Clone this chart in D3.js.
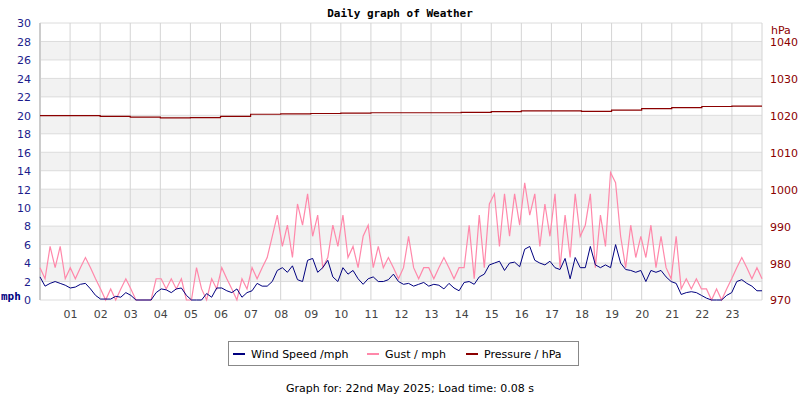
<!DOCTYPE html><html><head><meta charset="utf-8"><script src="https://cdn.jsdelivr.net/npm/d3@7"></script>
<style>body{margin:0;background:#fff}</style></head><body><svg id="c" width="800" height="400"></svg><script>
const hourLabels=["01","02","03","04","05","06","07","08","09","10","11","12","13","14","15","16","17","18","19","20","21","22","23"];
const windSpeed=[2.5,1.5,1.8,2.0,1.8,1.6, 1.3,1.4,1.7,1.8,1.2,0.5, 0.1,0.1,0.1,0.4,0.3,0.8, 0.5,0,0,0,0,0.8, 1.2,1.1,0.8,1.2,1.3,0.5, 0,0,0,0.7,0.3,1.3, 1.3,1.0,0.8,1.2,0.3,0.8, 1.0,1.8,1.5,1.5,2.0,3.2, 3.5,3.0,3.7,2.2,2.0,4.3, 4.5,3.0,3.5,4.3,2.5,2.0, 3.5,2.8,3.2,2.3,1.7,2.3, 2.5,2.0,2.0,2.2,2.8,2.0, 1.7,1.8,1.5,1.7,1.9,1.5, 1.7,1.6,1.2,1.8,1.3,1.0, 1.9,2.0,1.7,2.5,2.8,3.8, 4.0,4.2,3.2,4.0,4.1,3.6, 5.5,5.8,4.3,4.0,3.8,4.2, 3.5,3.3,4.5,2.3,4.6,3.5, 3.5,5.8,3.8,3.5,3.8,3.5, 6.0,4.0,3.3,3.2,3.0,3.2, 2.0,3.2,3.0,3.2,2.5,2.0, 1.8,0.6,0.8,0.9,0.8,0.5, 0.2,0,0,0,0.5,0.8, 2.0,2.2,1.8,1.5,1.0,1.0];
const gust=[3.5,2.3,5.8,3.5,5.8,2.3, 3.5,2.3,3.5,4.6,3.5,2.3, 1.2,0,1.2,0,1.2,2.3, 1.2,0,0,0,0,2.3, 2.3,1.2,2.3,1.2,2.3,0, 0,3.5,1.2,0,2.3,1.2, 3.5,2.3,1.2,0,2.3,1.2, 3.5,2.3,3.5,4.6,6.9,9.2, 5.8,8.1,4.6,10.4,8.1,11.5, 6.9,9.2,3.5,4.6,8.1,5.8, 9.2,4.6,5.8,3.5,6.9,8.1, 3.5,5.8,3.5,4.6,3.5,2.3, 3.5,6.9,3.5,2.3,3.5,3.5, 2.3,3.5,4.6,3.5,2.3,3.5, 3.5,8.1,2.3,9.2,3.5,10.4, 11.5,5.8,11.5,6.9,11.5,8.1, 12.7,9.2,11.5,5.8,10.4,6.9, 11.5,3.5,9.2,4.6,11.5,6.9, 8.1,11.5,3.5,9.2,5.8,13.8, 12.7,6.9,3.5,8.1,4.6,6.9, 4.6,8.1,3.5,6.9,3.5,2.3, 6.9,1.2,2.3,1.2,2.3,1.2, 1.2,0,1.2,0,1.2,2.3, 3.5,4.6,3.5,2.3,3.5,2.3];
const pressure=[1020.0,1020.0,1019.8,1019.6,1019.4,1019.5,1019.8,1020.4,1020.5,1020.6,1020.7,1020.8,1020.8,1020.8,1020.9,1021.1,1021.3,1021.3,1021.2,1021.5,1021.9,1022.2,1022.5,1022.6,1022.6];
const leftTicks=d3.range(0,31,2), rightTicks=d3.range(970,1041,10);
const svg=d3.select("#c");
const L=40,R=762,T=23,B=300;
const x=d3.scaleLinear().domain([0,24]).range([L,R]);
const y=d3.scaleLinear().domain([0,30]).range([B,T]);
const yp=d3.scaleLinear().domain([970,970+(B-T)/(258/70)]).range([B,T]);
for(let v=2;v<28;v+=4) svg.append("rect").attr("x",L).attr("width",R-L).attr("y",y(v+2)).attr("height",y(v)-y(v+2)).attr("fill","#f2f2f2");
leftTicks.forEach(v=>svg.append("line").attr("x1",L).attr("x2",R).attr("y1",y(v)).attr("y2",y(v)).attr("stroke","#dcdcdc"));
d3.range(0,25).forEach(h=>svg.append("line").attr("x1",x(h)).attr("x2",x(h)).attr("y1",T).attr("y2",B).attr("stroke","#d4d4d4"));
const ax=svg.append("g").attr("transform",`translate(0,${B})`).call(d3.axisBottom(x).tickValues(d3.range(1,24)).tickFormat(d=>hourLabels[d-1]).tickSize(0).tickPadding(10));
ax.select(".domain").remove();ax.selectAll("text").attr("fill","#444").style("font","11px 'DejaVu Sans'");
const ay=svg.append("g").attr("transform",`translate(${L-6},0)`).call(d3.axisLeft(y).tickValues(leftTicks).tickSize(0));
ay.select(".domain").remove();ay.selectAll("text").attr("fill","#1c1c8c").attr("dy","0.35em").style("font","11px 'DejaVu Sans'");
const ar=svg.append("g").attr("transform",`translate(${R+5},0)`).call(d3.axisRight(yp).tickValues(rightTicks).tickFormat(d3.format("d")).tickSize(0));
ar.select(".domain").remove();ar.selectAll("text").attr("fill","#8b0000").attr("dy","0.35em").style("font","11px 'DejaVu Sans'");
svg.append("line").attr("x1",L).attr("x2",L).attr("y1",T).attr("y2",B).attr("stroke","#ccc").attr("stroke-width",2);
const n=windSpeed.length;
const xi=i=>x(i*24/(n-1));
svg.append("path").attr("d",d3.line().x((d,i)=>xi(i)).y(d=>y(d))(gust)).attr("fill","none").attr("stroke","#ff88aa").attr("stroke-width",1.2);
svg.append("path").attr("d",d3.line().x((d,i)=>xi(i)).y(d=>y(d))(windSpeed)).attr("fill","none").attr("stroke","#00007f").attr("stroke-width",1);
svg.append("path").attr("d",d3.line().x((d,i)=>x(i)).y(d=>yp(d)).curve(d3.curveStepAfter)(pressure)).attr("fill","none").attr("stroke","#8b0000").attr("stroke-width",1.2);
svg.append("text").attr("x",400).attr("y",17).attr("text-anchor","middle").style("font","bold 11px 'DejaVu Sans Mono'").text("Daily graph of Weather");
svg.append("text").attr("x",1).attr("y",300).style("font","bold 11px 'DejaVu Sans Mono'").attr("fill","#00007f").text("mph");
svg.append("text").attr("x",771).attr("y",34).style("font","11px 'DejaVu Sans'").attr("fill","#8b0000").text("hPa");
svg.append("rect").attr("x",228.5).attr("y",341.5).attr("width",350).attr("height",24).attr("fill","#fff").attr("stroke","#888");
[["Wind Speed /mph","#00007f",233],["Gust / mph","#ff88aa",367],["Pressure / hPa","#8b0000",466]].forEach(([t,c,lx])=>{
svg.append("line").attr("x1",lx).attr("x2",lx+12).attr("y1",354).attr("y2",354).attr("stroke",c).attr("stroke-width",2);
svg.append("text").attr("x",lx+18).attr("y",358).style("font","11px 'DejaVu Sans'").attr("fill","#000").text(t);});
svg.append("text").attr("x",410).attr("y",392).attr("text-anchor","middle").style("font","11px 'DejaVu Sans'").text("Graph for: 22nd May 2025; Load time: 0.08 s");
</script></body></html>
